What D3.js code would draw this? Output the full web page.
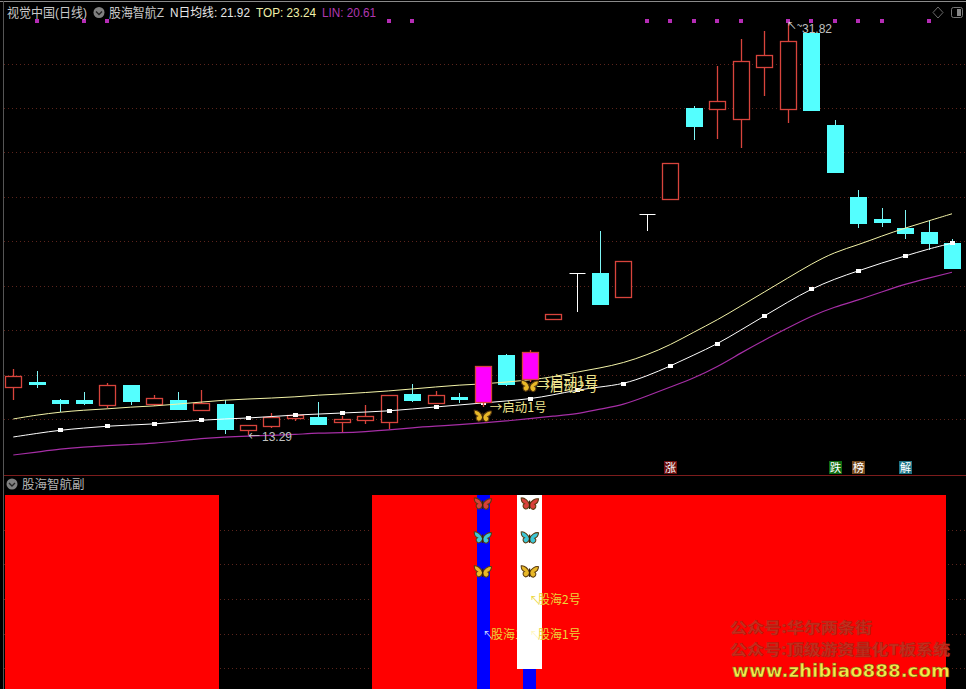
<!DOCTYPE html>
<html>
<head>
<meta charset="utf-8">
<script src="https://cdn.jsdelivr.net/npm/d3@7/dist/d3.min.js"></script>
<style>
html,body{margin:0;padding:0;background:#000;overflow:hidden}
svg{display:block}
</style>
</head>
<body>
<svg id="c" width="966" height="689" font-family="'Liberation Sans','Noto Sans CJK SC',sans-serif"></svg>
<script>
const opens =[15.45,15.67,14.86,14.86,14.64,15.54,14.68,14.86,14.41,14.68,13.51,13.69,14.05,14.10,13.87,13.96,13.87,15.13,14.73,15.00,14.77,16.89,15.81,18.51,20.58,20.58,19.50,23.23,23.91,28.00,27.96,27.51,29.85,27.96,31.38,27.24,24.00,23.01,22.60,22.42,21.93];
const highs =[16.26,16.17,14.91,15.22,15.63,15.54,15.09,15.22,15.31,14.86,13.74,14.28,14.28,14.77,14.14,14.64,15.09,15.58,15.27,15.18,16.39,16.93,17.11,18.73,20.58,22.47,21.12,23.23,25.53,28.09,29.89,31.11,31.47,31.82,31.38,27.46,24.31,23.50,23.41,22.92,22.11];
const lows  =[14.86,15.40,14.32,14.64,14.50,14.64,14.59,14.41,14.41,13.33,13.29,13.60,13.92,13.74,13.38,13.78,13.56,14.77,14.68,14.73,14.55,15.49,15.67,18.51,18.82,19.14,19.50,22.47,23.91,26.56,26.61,26.20,28.54,27.33,27.91,25.12,22.60,22.65,22.11,21.61,20.80];
const closes=[15.94,15.58,14.73,14.73,15.54,14.82,14.95,14.46,14.73,13.56,13.74,14.10,14.19,13.78,14.01,14.14,15.09,14.86,15.09,14.91,16.39,15.58,17.02,18.73,20.58,19.18,21.12,23.23,25.53,27.19,28.32,30.12,30.39,31.02,27.91,25.12,22.83,22.87,22.38,21.93,20.80];
const nAvg=[13.20,13.36,13.51,13.60,13.69,13.74,13.78,13.87,13.96,14.01,14.05,14.12,14.19,14.23,14.28,14.32,14.37,14.46,14.55,14.64,14.73,14.82,14.91,15.09,15.31,15.45,15.58,15.94,16.39,16.89,17.38,18.01,18.64,19.27,19.86,20.31,20.67,21.03,21.34,21.66,21.92];
const top_=[14.01,14.19,14.32,14.41,14.46,14.55,14.59,14.68,14.77,14.86,14.91,14.95,15.00,15.09,15.13,15.20,15.27,15.36,15.45,15.54,15.58,15.67,15.76,15.90,16.12,16.30,16.53,16.89,17.34,17.92,18.46,19.09,19.72,20.35,20.98,21.52,21.84,22.24,22.60,22.92,23.24];
const lin =[12.39,12.52,12.66,12.75,12.82,12.86,12.91,13.02,13.13,13.20,13.24,13.27,13.31,13.38,13.39,13.44,13.51,13.62,13.69,13.75,13.83,13.92,14.02,14.14,14.23,14.46,14.64,15.04,15.45,15.85,16.35,16.98,17.56,18.10,18.64,19.05,19.36,19.72,20.08,20.35,20.61];
const magentaBars=[20,22];
const priceTicks=[14,16,18,20,22,24,26,28,30];
const topDotBars=[1,3,4,16,17,27,28,29,30,31,33,34,35,36,37,39];
const topDotPrice=31.93;
const flagBars=[28,35,36,38];
const flagTexts=["涨","跌","榜","解"];
const flagColors=["#6b0d0d","#0f6b12","#74481c","#1f7486"];
const redBars=[0,1,2,3,4,5,6,7,8,16,17,18,19,20,21,22,23,24,25,26,27,28,29,30,31,32,33,34,35,36,37,38,39];
const subTicks=[82,64.5,46.5,28.5,11];
const blueBars=[20,22];
const whiteBars=[22];
const whiteLow=10.3;
const subBflyValues=[95.5,78,60.5];
const subBflyColors=["#d8403a","#3cc8d8","#e8b828"];
const titleTexts=["视觉中国(日线)","股海智航Z","N日均线: 21.92","TOP: 23.24","LIN: 20.61"];

const W=966,H=689;
const svg=d3.select("#c");
const x=d3.scaleLinear().domain([0,40]).range([13.3,952]);
const y=d3.scaleLinear().domain([14,30]).range([419.2,63.5]);
const sy=d3.scaleLinear().domain([0,100]).range([689,495]);
const RED="#d8443c",CYAN="#54ffff",MAG="#ff00ff";
const CJK="Noto Sans CJK SC";

// frame
svg.append("rect").attr("width",W).attr("height",H).attr("fill","#000");
svg.append("line").attr("x1",0).attr("x2",W).attr("y1",1.5).attr("y2",1.5).attr("stroke","#8a8a8a").attr("stroke-width",1);
svg.append("line").attr("x1",3.5).attr("x2",3.5).attr("y1",1).attr("y2",H).attr("stroke","#555").attr("stroke-width",1);

// grid
const dot=(sel)=>sel.attr("x1",4).attr("x2",W).attr("stroke","#5c241c").attr("stroke-width",1).attr("stroke-dasharray","1,3");
svg.append("g").selectAll("line").data(priceTicks).join("line").call(dot).attr("y1",d=>Math.round(y(d))+.5).attr("y2",d=>Math.round(y(d))+.5);
svg.append("g").selectAll("line").data(subTicks).join("line").call(dot).attr("y1",d=>Math.round(sy(d))+.5).attr("y2",d=>Math.round(sy(d))+.5);

// separator
svg.append("line").attr("x1",4).attr("x2",W).attr("y1",475.5).attr("y2",475.5).attr("stroke","#7c1c1c");

const bars=d3.range(opens.length).map(i=>({i,o:opens[i],h:highs[i],l:lows[i],c:closes[i],mag:magentaBars.includes(i),doji:opens[i]===closes[i]}));
const colorOf=d=>d.doji?"#ffffff":d.c>=d.o?RED:"#7ff5f5";
function drawCandle(g,d){
  const cx=Math.round(x(d.i))+.5, t=Math.round(y(Math.max(d.o,d.c))), b=Math.round(y(Math.min(d.o,d.c)));
  g.append("line").attr("x1",cx).attr("x2",cx).attr("y1",Math.round(y(d.h))).attr("y2",Math.round(y(d.l))).attr("stroke",d.mag?RED:colorOf(d)).attr("stroke-width",d.c>=d.o&&!d.doji?1.3:1);
  if(d.doji){
    g.append("line").attr("x1",cx-8).attr("x2",cx+8).attr("y1",t+.5).attr("y2",t+.5).attr("stroke","#fff");
  } else if(d.mag){
    g.append("rect").attr("x",cx-8).attr("y",t+.5).attr("width",16).attr("height",b-t).attr("fill",MAG).attr("stroke",RED).attr("stroke-width",1.3);
  } else if(d.c>=d.o){
    g.append("rect").attr("x",cx-8).attr("y",t+.5).attr("width",16).attr("height",Math.max(1,b-t)).attr("fill","#000").attr("stroke",RED).attr("stroke-width",1.3);
  } else {
    g.append("rect").attr("x",cx-8.5).attr("y",t).attr("width",17).attr("height",Math.max(2,b-t+1)).attr("fill",CYAN).attr("shape-rendering","crispEdges");
  }
}
const gc=svg.append("g");
bars.filter(d=>!d.mag).forEach(d=>drawCandle(gc,d));

// lines
const line=d3.line().x((d,i)=>x(i)).y(d=>y(d)).curve(d3.curveBasis);
svg.append("path").attr("d",line(top_)).attr("fill","none").attr("stroke","#f4f4a8").attr("stroke-width",1);
svg.append("path").attr("d",line(lin)).attr("fill","none").attr("stroke","#a62ea6").attr("stroke-width",1.2);
svg.append("path").attr("d",line(nAvg)).attr("fill","none").attr("stroke","#ffffff").attr("stroke-width",1);
svg.append("g").selectAll("rect").data(nAvg.map((v,i)=>({v,i})).filter(d=>d.i%2===0&&d.i>0)).join("rect")
  .attr("x",d=>Math.round(x(d.i))-2).attr("y",d=>Math.round(y(d.v))-2).attr("width",5).attr("height",4).attr("fill","#fff").attr("shape-rendering","crispEdges");

const gm=svg.append("g");
bars.filter(d=>d.mag).forEach(d=>drawCandle(gm,d));

// top dots
svg.append("g").selectAll("rect").data(topDotBars).join("rect")
  .attr("x",d=>Math.round(x(d))-2).attr("y",Math.round(y(topDotPrice))-2).attr("width",4).attr("height",4).attr("fill","#b52cb5").attr("shape-rendering","crispEdges");

// butterfly glyph
function bfly(cx,cy,color,s=1.05){
  const g=svg.append("g").attr("transform",`translate(${cx},${cy}) scale(${s})`);
  const wing="M0,1 C-1,-3 -5,-6 -8,-5.5 C-8,-2.5 -7.5,-1 -5,0 C-7,1 -6.5,4 -4,5 C-2,5 -.5,3 0,1 Z";
  g.append("path").attr("d",wing).attr("fill",color).attr("stroke","#5a3a10").attr("stroke-width",1);
  g.append("path").attr("d",wing).attr("transform","scale(-1,1) rotate(-6)").attr("fill",color).attr("stroke","#5a3a10").attr("stroke-width",1);
  g.append("line").attr("x1",0).attr("x2",0).attr("y1",-3).attr("y2",5).attr("stroke","#3a2408").attr("stroke-width",1.2);
}

// text helper
const T=(px,py,s,fill,size=12.5,extra)=>{const t=svg.append("text").attr("x",px).attr("y",py).attr("fill",fill).attr("font-size",size).text(s);if(extra)extra(t);return t;};
const fit=(len)=>t=>t.attr("textLength",len).attr("lengthAdjust","spacingAndGlyphs");
const cjk=t=>t.attr("font-family",CJK);

// main labels
const LBL="#eee48c";
T(x(20)+7,412,"→启动1号",LBL,12.5,cjk);
T(x(22)+7,386,"→启动1号",LBL,13.5,cjk);
T(x(22)+7,391,"→启动2号",LBL,13.5,cjk);
bfly(x(20),416,"#e8b828");
bfly(x(22),386,"#e8b828");
T(x(10),441,"←",  "#c8c8c8",12,cjk);
T(262,441,"13.29","#c0c0c0",12);
T(x(33)-1,29,"↖~","#d8d8d8",10,cjk);
T(802,33,"31.82","#c0c0c0",12);

// flags
flagBars.forEach((b,i)=>{
  const cx=Math.round(x(b));
  svg.append("rect").attr("x",cx-6).attr("y",461).attr("width",13).attr("height",13).attr("fill",flagColors[i]);
  T(cx+.5,472,flagTexts[i],"#fff",11.5,t=>t.attr("text-anchor","middle"));
});

// title row
function chevron(cx,cy){
  svg.append("circle").attr("cx",cx).attr("cy",cy).attr("r",5.5).attr("fill","#808080");
  svg.append("path").attr("d",`M${cx-3},${cy-1} L${cx},${cy+2} L${cx+3},${cy-1}`).attr("fill","none").attr("stroke","#222").attr("stroke-width",1.4);
}
T(7,17,titleTexts[0],"#c8c8c8",13,fit(80));
chevron(99,12.5);
T(109,17,titleTexts[1],"#c8c8c8",13,fit(55));
T(170,17,titleTexts[2],"#e8e8e8",12.5,fit(80));
T(256,17,titleTexts[3],"#f0f0a8",12.5,fit(60));
T(322,17,titleTexts[4],"#b038b0",12.5,fit(54));

// top right icons
svg.append("path").attr("d","M938,7 L943,12.5 L938,18 L933,12.5 Z").attr("fill","none").attr("stroke","#6a6a6a");
svg.append("rect").attr("x",951.5).attr("y",7.5).attr("width",11).attr("height",10).attr("rx",2).attr("fill","none").attr("stroke","#777");
svg.append("rect").attr("x",957).attr("y",9).attr("width",4).attr("height",7).attr("fill","#888");

// sub title
chevron(12,484);
T(22,489,"股海智航副","#b4b4b4",12.5);

// sub panel bars
const subG=svg.append("g").attr("shape-rendering","crispEdges");
subG.selectAll("rect.r").data(redBars).join("rect").attr("class","r")
  .attr("x",d=>Math.max(5,x(d)-17)).attr("width",d=>x(d)+17.6-Math.max(5,x(d)-17))
  .attr("y",sy(100)).attr("height",sy(0)-sy(100)).attr("fill","#ff0000");
subG.selectAll("rect.b").data(blueBars).join("rect").attr("class","b")
  .attr("x",d=>x(d)-6.1).attr("width",13)
  .attr("y",sy(100)).attr("height",sy(0)-sy(100)).attr("fill","#0000ff");

// sub labels under white column
const SUB="#ecd63a";
T(x(20),639,"↖",  "#c8d8ff",11,cjk);
T(491,639,"股海1号",SUB,12,cjk);
const subW=svg.append("g").attr("shape-rendering","crispEdges");
subW.selectAll("rect").data(whiteBars).join("rect")
  .attr("x",d=>x(d)-12.8).attr("width",25)
  .attr("y",sy(100)).attr("height",sy(whiteLow)-sy(100)).attr("fill","#ffffff");
T(x(22),604,"↖",SUB,11,cjk);
T(538,604,"股海2号",SUB,12,cjk);
T(x(22),639,"↖","#fff7c0",11,cjk);
T(538,639,"股海1号",SUB,12,cjk);

blueBars.forEach(b=>{
  subBflyValues.forEach((v,k)=>bfly(x(b),sy(v),subBflyColors[k]));
});

// watermark
const wm=(py,s,len)=>T(730,py,s,"#c4301e",15,t=>t.attr("font-family",CJK).attr("font-weight","700").attr("stroke","#a82214").attr("stroke-width",.5).attr("textLength",len).attr("lengthAdjust","spacingAndGlyphs"));
wm(633,"公众号:华尔两条街",142);
wm(655,"公众号:顶级游资量化T板系统",220);
T(732,677,"www.zhibiao888.com","#f6e84a",18,t=>t.attr("font-family","DejaVu Sans").attr("font-weight","700").attr("stroke","#6a5a10").attr("stroke-width",.5).attr("textLength",218).attr("lengthAdjust","spacingAndGlyphs"));
</script>
</body>
</html>
